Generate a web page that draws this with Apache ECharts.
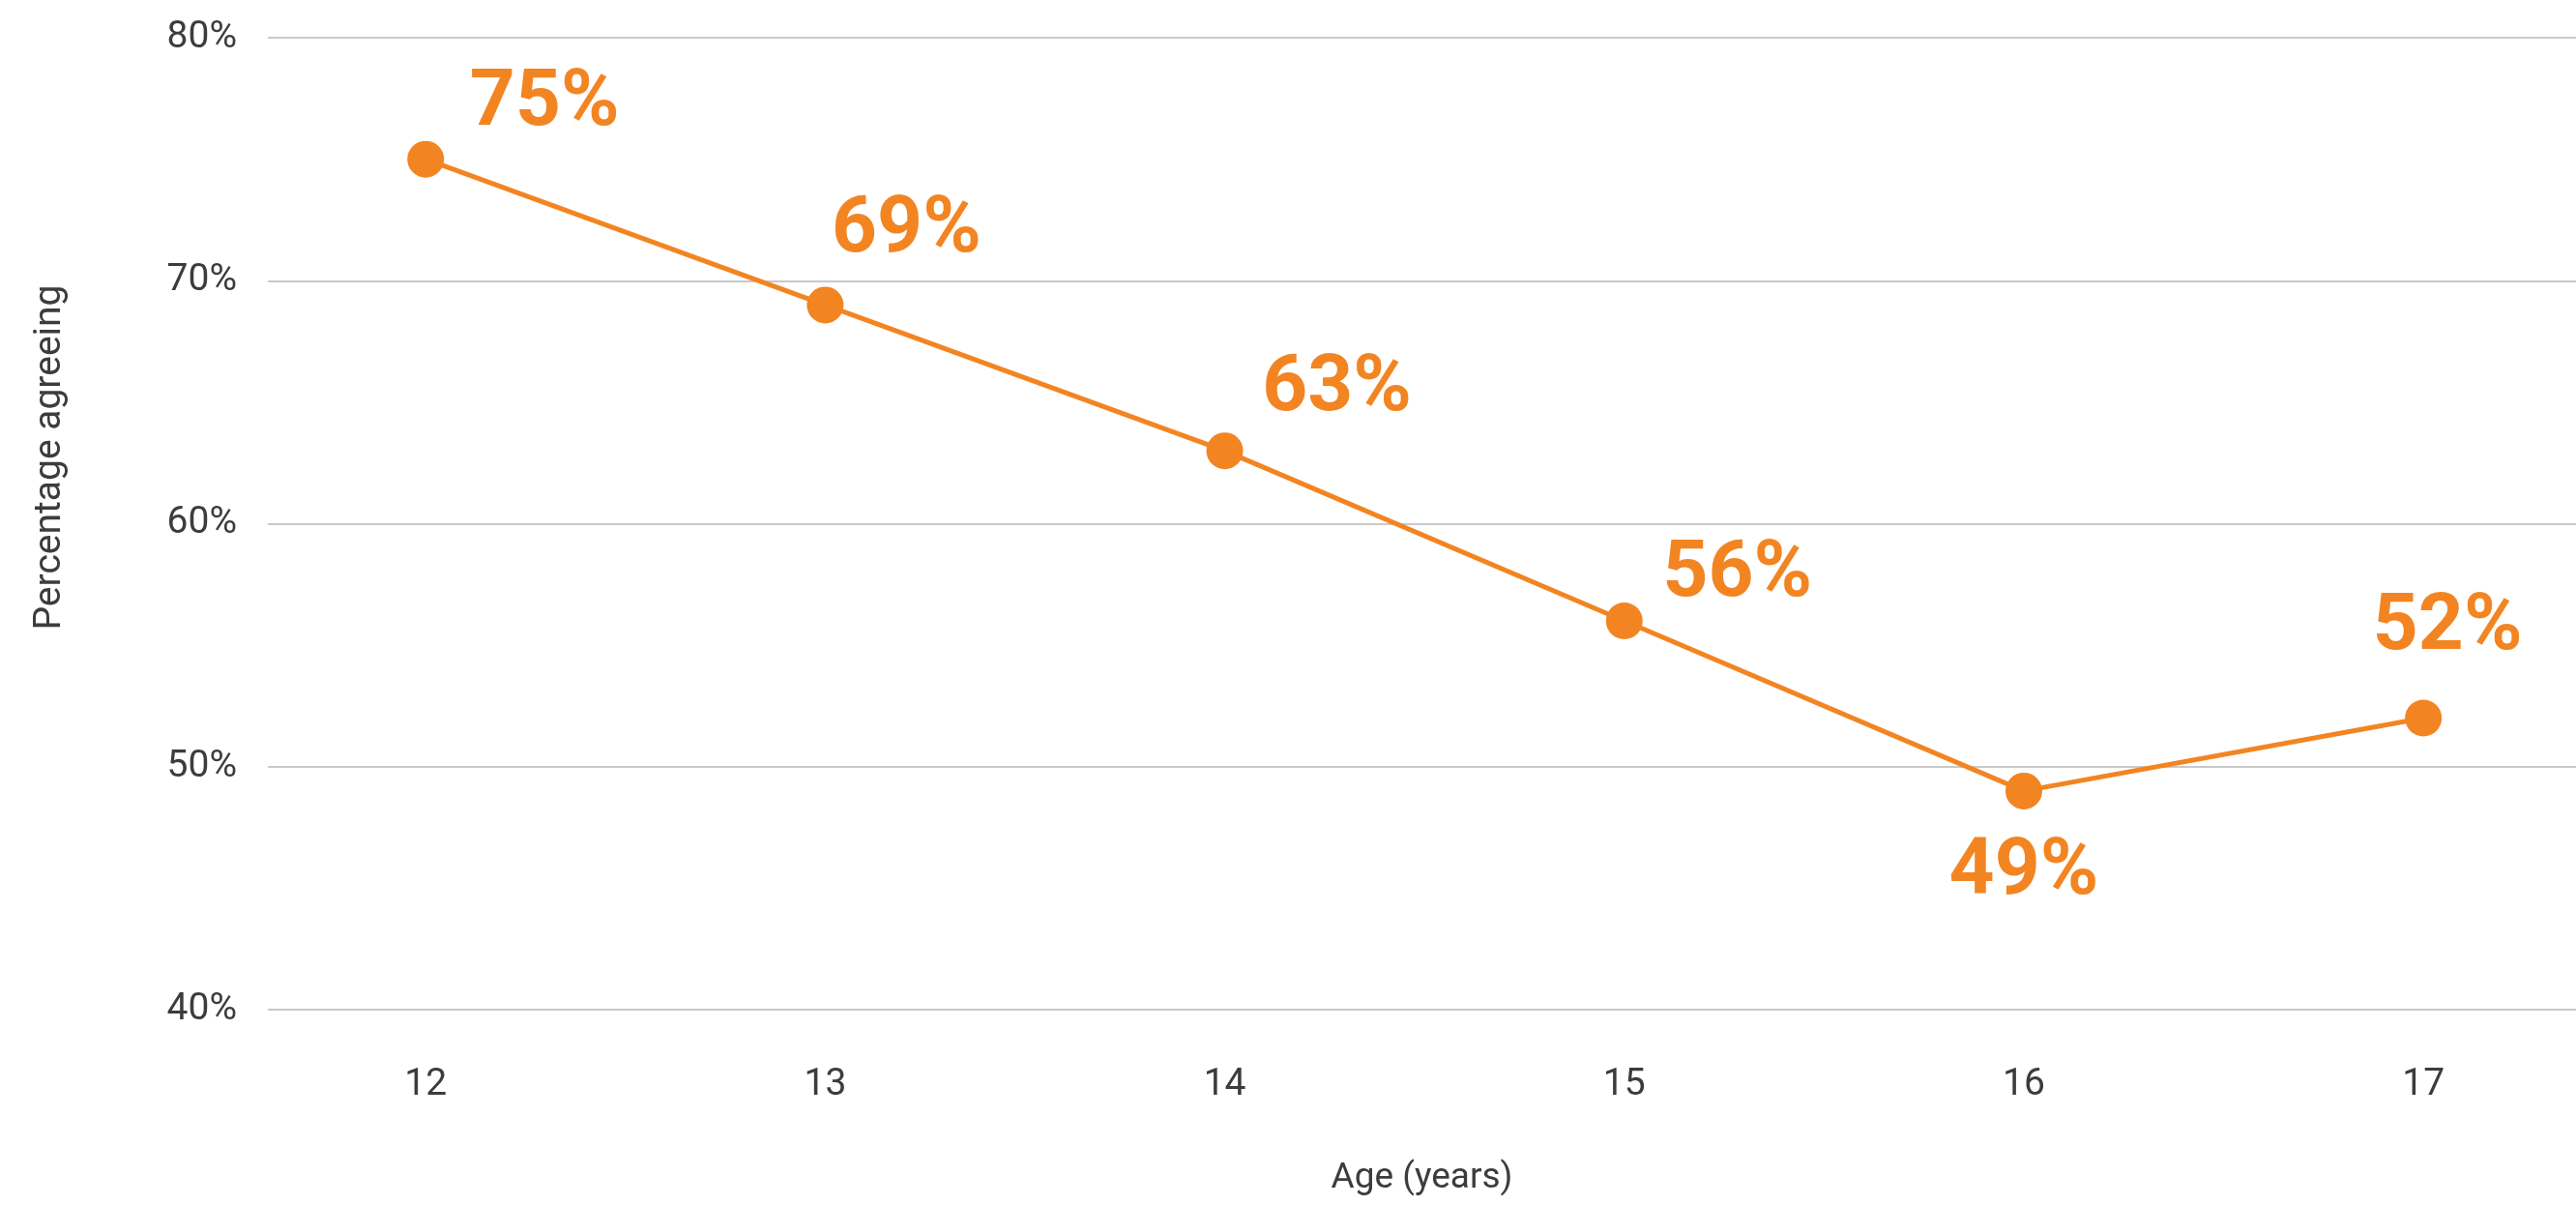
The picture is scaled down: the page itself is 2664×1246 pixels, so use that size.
<!DOCTYPE html>
<html>
<head>
<meta charset="utf-8">
<title>Percentage agreeing by age</title>
<script src="https://cdn.jsdelivr.net/npm/echarts@6/dist/echarts.min.js"></script>
<style>
  html, body { margin: 0; padding: 0; background: #ffffff; }
  #chart { width: 2664px; height: 1246px; }
</style>
</head>
<body>
<div id="chart"></div>
<script>
// Ages surveyed and share of respondents agreeing at each age (%)
const ages = [12, 13, 14, 15, 16, 17];
const agreeing = [75, 69, 63, 56, 49, 52];
const yTicks = [40, 50, 60, 70, 80];

// Where each value label sits relative to its point, in pixels [dx, dy]
const labelOffsets = [[123, -56], [84, -76], [116, -63], [117, -47], [0, 86], [25, -92]];

const ORANGE = '#F28522';
const TEXT = '#3c3c3c';

const points = ages.map((age, i) => ({
  value: [age, agreeing[i]],
  label: { offset: labelOffsets[i] }
}));

const chart = echarts.init(document.getElementById('chart'), null, { renderer: 'canvas' });

chart.setOption({
  backgroundColor: '#ffffff',
  animation: false,
  grid: { left: 277, right: 0, top: 39, bottom: 202, containLabel: false },
  xAxis: {
    type: 'value',
    min: 11.605,
    max: 17.382,
    name: 'Age (years)',
    nameLocation: 'middle',
    nameGap: 156,
    nameTextStyle: { fontFamily: 'Roboto', fontSize: 37, color: TEXT },
    axisLine: { show: false },
    axisTick: { show: false },
    splitLine: { show: false },
    axisLabel: {
      customValues: ages,
      margin: 59,
      fontFamily: 'Roboto',
      fontSize: 39,
      color: TEXT
    }
  },
  yAxis: {
    type: 'value',
    min: yTicks[0],
    max: yTicks[yTicks.length - 1],
    interval: 10,
    axisLine: { show: false },
    axisTick: { show: false },
    splitLine: { lineStyle: { color: '#c9c9cc', width: 2 } },
    axisLabel: {
      margin: 32,
      fontFamily: 'Roboto',
      fontSize: 39,
      color: TEXT,
      formatter: v => v + '%'
    }
  },
  graphic: [{
    type: 'text',
    x: 52,
    y: 473,
    rotation: Math.PI / 2,
    style: {
      text: 'Percentage agreeing',
      fontFamily: 'Roboto',
      fontSize: 39,
      fill: TEXT,
      align: 'center',
      verticalAlign: 'middle'
    }
  }],
  series: [{
    type: 'line',
    data: points,
    symbol: 'circle',
    symbolSize: 38,
    lineStyle: { color: ORANGE, width: 5 },
    itemStyle: { color: ORANGE },
    label: {
      show: true,
      position: 'inside',
      align: 'center',
      verticalAlign: 'middle',
      fontFamily: 'Roboto',
      fontWeight: 'bold',
      fontSize: 82,
      color: ORANGE,
      formatter: p => p.value[1] + '%'
    },
    z: 3
  }]
});
</script>
</body>
</html>
